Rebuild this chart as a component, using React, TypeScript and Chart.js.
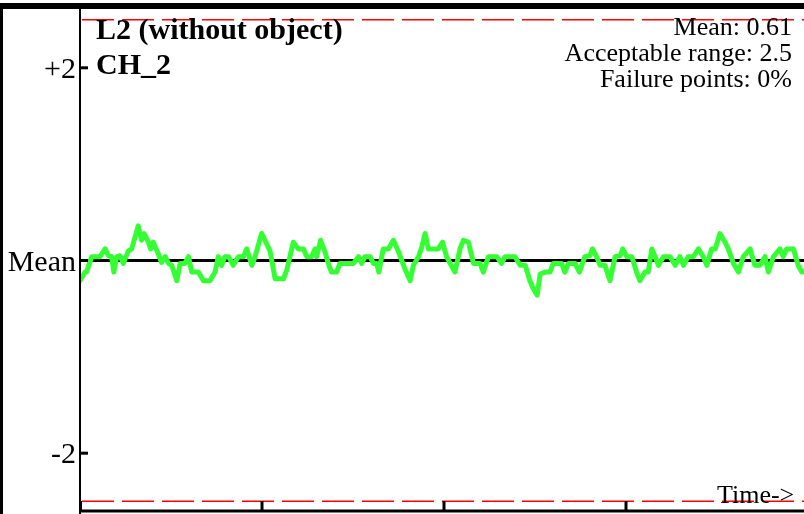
import React, { useEffect, useRef } from "react";
import { Chart, registerables } from "chart.js";

Chart.register(...registerables);

const TITLE_LINES = ["L2 (without object)", "CH_2"];
const MEAN = 0.61;
const ACCEPTABLE_RANGE = 2.5;
const FAILURE_POINTS = "0%";
const INFO_LINES = [
  `Mean: ${MEAN}`,
  `Acceptable range: ${ACCEPTABLE_RANGE}`,
  `Failure points: ${FAILURE_POINTS}`,
];
const Y_TICK_OFFSETS = [2, 0, -2];
const Y_TICK_LABELS = ["+2", "Mean", "-2"];
const X_AXIS_LABEL = "Time->";
const X_TICK_STEP = 50;
const X_MAX = 198.9;
const Y_HALF_SPAN = 2.6;

const TIME = [
  0, 1.4, 1.8, 3.2, 5.5, 6.9, 7.8, 8.7, 9.3, 10.1,
  11.0, 11.9, 13.3, 14.2, 15.1, 16.0, 16.9, 17.6, 18.8, 19.4,
  20.1, 21.5, 22.4, 23.4, 24.3, 25.2, 26.6, 27.5, 28.8, 29.8,
  30.7, 32.5, 33.9, 35.7, 37.1, 38.0, 38.9, 39.8, 40.8, 42.1,
  43.5, 44.9, 45.8, 47.2, 48.1, 49.9, 52.2, 53.6, 55.9, 56.8,
  58.6, 60.0, 61.4, 62.3, 63.6, 64.6, 65.0, 66.1, 67.3, 68.2,
  69.1, 70.5, 71.4, 75.1, 76.5, 77.4, 78.3, 79.7, 80.6, 81.5,
  82.1, 83.3, 84.7, 86.1, 87.5, 89.3, 90.7, 91.6, 93.0, 93.9,
  94.8, 95.7, 98.4, 99.6, 100.7, 101.7, 103.0, 104.4, 105.3, 106.7,
  108.1, 109.9, 110.8, 112.2, 114.5, 115.8, 116.8, 119.5, 120.9, 122.3,
  123.6, 124.5, 125.6, 126.4, 127.8, 129.1, 130.0, 132.3, 133.2, 134.2,
  136.0, 137.2, 138.7, 140.1, 140.8, 141.9, 142.9, 144.2, 145.6, 147.0,
  148.4, 149.1, 150.2, 151.6, 152.9, 153.8, 155.2, 156.1, 157.1, 158.0,
  158.9, 160.3, 162.1, 163.5, 164.8, 165.8, 167.1, 168.5, 169.9, 171.2,
  172.2, 173.5, 174.5, 175.8, 177.2, 178.1, 179.5, 180.9, 182.2, 184.1,
  185.4, 186.8, 188.2, 189.1, 190.5, 192.3, 193.2, 194.1, 196.0, 197.3,
  198.3, 198.9,
];

const VALUES = [
  0.40, 0.49, 0.49, 0.65, 0.65, 0.73, 0.66, 0.65, 0.49, 0.65,
  0.66, 0.58, 0.71, 0.73, 0.85, 0.97, 0.82, 0.89, 0.80, 0.73,
  0.80, 0.68, 0.59, 0.65, 0.58, 0.56, 0.40, 0.58, 0.58, 0.65,
  0.49, 0.49, 0.40, 0.40, 0.49, 0.65, 0.56, 0.65, 0.65, 0.56,
  0.65, 0.65, 0.73, 0.56, 0.65, 0.89, 0.71, 0.42, 0.42, 0.51,
  0.80, 0.73, 0.73, 0.65, 0.65, 0.73, 0.65, 0.82, 0.70, 0.58,
  0.49, 0.49, 0.58, 0.58, 0.65, 0.58, 0.65, 0.65, 0.58, 0.58,
  0.49, 0.73, 0.73, 0.82, 0.70, 0.52, 0.40, 0.56, 0.65, 0.75,
  0.89, 0.73, 0.73, 0.80, 0.65, 0.58, 0.49, 0.73, 0.82, 0.80,
  0.58, 0.58, 0.49, 0.65, 0.65, 0.58, 0.65, 0.65, 0.56, 0.56,
  0.40, 0.32, 0.25, 0.47, 0.49, 0.49, 0.58, 0.58, 0.49, 0.58,
  0.58, 0.49, 0.65, 0.66, 0.73, 0.65, 0.56, 0.56, 0.40, 0.65,
  0.66, 0.73, 0.65, 0.65, 0.49, 0.40, 0.49, 0.49, 0.73, 0.65,
  0.56, 0.65, 0.65, 0.56, 0.65, 0.56, 0.65, 0.65, 0.73, 0.65,
  0.56, 0.73, 0.73, 0.89, 0.80, 0.73, 0.58, 0.49, 0.65, 0.73,
  0.56, 0.56, 0.65, 0.49, 0.65, 0.73, 0.65, 0.73, 0.73, 0.56,
  0.49, 0.49,
];

const FONT = "'Liberation Serif', 'Times New Roman', serif";

const decorPlugin = {
  id: "decor",
  beforeDatasetsDraw(chart: any) {
    const { ctx, chartArea, scales } = chart;
    const y = scales.y.getPixelForValue(MEAN);
    ctx.save();
    ctx.strokeStyle = "#000";
    ctx.lineWidth = 3;
    ctx.beginPath();
    ctx.moveTo(chartArea.left, y);
    ctx.lineTo(chart.width, y);
    ctx.stroke();
    ctx.restore();
  },
  afterDraw(chart: any) {
    const { ctx, chartArea, scales } = chart;
    const xs = scales.x;
    const ys = scales.y;
    const W = chart.width;
    ctx.save();
    // frame
    ctx.fillStyle = "#000";
    ctx.fillRect(0, 3, W, 6);
    ctx.fillRect(0, 3, 3, chart.height - 3);

    // red acceptable range dashed lines
    ctx.strokeStyle = "#ff0000";
    ctx.lineWidth = 1.5;
    ctx.setLineDash([32, 8]);
    [MEAN + ACCEPTABLE_RANGE, MEAN - ACCEPTABLE_RANGE].forEach((v) => {
      const y = ys.getPixelForValue(v);
      ctx.beginPath();
      ctx.moveTo(chartArea.left + 2, y);
      ctx.lineTo(W, y);
      ctx.stroke();
    });
    ctx.setLineDash([]);

    // axes
    ctx.strokeStyle = "#000";
    ctx.lineWidth = 2;
    ctx.beginPath();
    ctx.moveTo(chartArea.left, 9);
    ctx.lineTo(chartArea.left, chart.height);
    ctx.stroke();
    ctx.lineWidth = 3;
    ctx.beginPath();
    ctx.moveTo(chartArea.left - 1, chartArea.bottom);
    ctx.lineTo(W, chartArea.bottom);
    ctx.stroke();

    // x ticks (inward)
    for (let v = 0; v <= X_MAX; v += X_TICK_STEP) {
      const x = xs.getPixelForValue(v) + (v === 0 ? 0.5 : 0);
      ctx.beginPath();
      ctx.moveTo(x, chartArea.bottom - 10);
      ctx.lineTo(x, chartArea.bottom);
      ctx.stroke();
    }

    // y ticks (inward) and labels
    ctx.fillStyle = "#000";
    ctx.textAlign = "right";
    ctx.textBaseline = "alphabetic";
    ctx.font = `30px ${FONT}`;
    Y_TICK_OFFSETS.forEach((off, i) => {
      const y = ys.getPixelForValue(MEAN + off);
      ctx.beginPath();
      ctx.moveTo(chartArea.left, y);
      ctx.lineTo(chartArea.left + 8, y);
      ctx.stroke();
      ctx.fillText(Y_TICK_LABELS[i], chartArea.left - 4, y + 10);
    });

    // title
    ctx.textAlign = "left";
    ctx.font = `bold 30px ${FONT}`;
    TITLE_LINES.forEach((t, i) => {
      ctx.fillText(t, chartArea.left + 16, 39 + i * 35);
    });

    // info
    ctx.textAlign = "right";
    ctx.font = `26px ${FONT}`;
    INFO_LINES.forEach((t, i) => {
      ctx.fillText(t, 792, 35 + i * 26);
    });

    // x label
    ctx.textAlign = "left";
    ctx.fillText(X_AXIS_LABEL, 717, 503);
    ctx.restore();
  },
};

export default function App() {
  const ref = useRef<HTMLCanvasElement | null>(null);
  useEffect(() => {
    const canvas = ref.current;
    if (!canvas) return;
    const chart = new Chart(canvas, {
      type: "line",
      data: {
        datasets: [
          {
            data: TIME.map((t, i) => ({ x: t, y: VALUES[i] })),
            borderColor: "#33ff33",
            borderWidth: 5,
            pointRadius: 0,
            tension: 0,
            borderJoinStyle: "round",
            borderCapStyle: "round",
          },
        ],
      },
      options: {
        responsive: false,
        animation: false,
        devicePixelRatio: 1,
        layout: { padding: { left: 80, top: 10, right: 0, bottom: 3 } },
        plugins: { legend: { display: false }, tooltip: { enabled: false } },
        scales: {
          x: { type: "linear", min: 0, max: X_MAX, display: false },
          y: {
            type: "linear",
            min: MEAN - Y_HALF_SPAN,
            max: MEAN + Y_HALF_SPAN,
            display: false,
          },
        },
      },
      plugins: [decorPlugin],
    } as any);
    return () => chart.destroy();
  }, []);
  return (
    <div
      style={{
        position: "fixed",
        left: 0,
        top: 0,
        width: 804,
        height: 514,
        background: "#fff",
        overflow: "hidden",
      }}
    >
      <canvas ref={ref} width={804} height={514} style={{ width: 804, height: 514, display: "block" }} />
    </div>
  );
}
